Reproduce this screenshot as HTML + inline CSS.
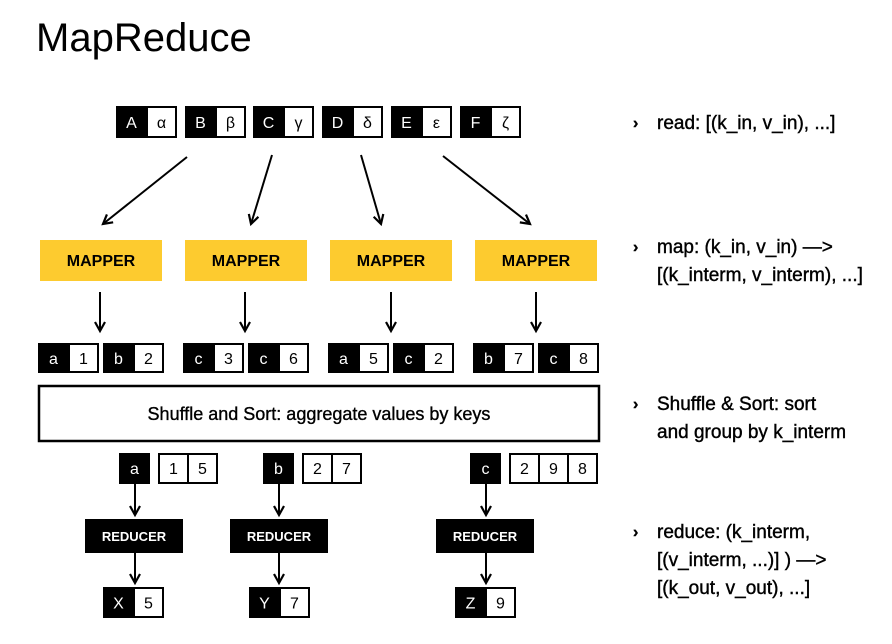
<!DOCTYPE html>
<html><head><meta charset="utf-8"><style>
html,body{margin:0;padding:0;background:#fff;}
svg{display:block;font-family:"Liberation Sans",sans-serif;}
</style></head><body>
<svg width="892" height="644" viewBox="0 0 892 644" xmlns="http://www.w3.org/2000/svg">
<defs><marker id="ah" markerWidth="14" markerHeight="14" refX="10" refY="6" orient="auto" markerUnits="userSpaceOnUse"><path d="M1,1 L10,6 L1,11" fill="none" stroke="#000" stroke-width="2.2"/></marker></defs>
<text x="36" y="51" font-size="40" fill="#000">MapReduce</text>
<g id="top"></g>
<g stroke="#000" stroke-width="2" marker-end="url(#ah)">
<line x1="187" y1="157" x2="103" y2="224"/><line x1="272" y1="155" x2="251" y2="224"/>
<line x1="361" y1="155" x2="381" y2="224"/><line x1="443" y1="156" x2="530" y2="224"/>
<line x1="100" y1="292" x2="100" y2="331"/><line x1="245" y1="292" x2="245" y2="331"/>
<line x1="391" y1="292" x2="391" y2="331"/><line x1="536" y1="292" x2="536" y2="331"/>
<line x1="135" y1="484" x2="135" y2="515"/><line x1="279" y1="484" x2="279" y2="515"/>
<line x1="486" y1="484" x2="486" y2="515"/>
<line x1="135" y1="553" x2="135" y2="583"/><line x1="279" y1="553" x2="279" y2="583"/>
<line x1="486" y1="553" x2="486" y2="583"/>
</g>
<g id="mappers"></g>
<g id="mid"></g>
<rect x="39" y="386" width="560" height="55" fill="#fff" stroke="#000" stroke-width="2.5"/>
<text x="319" y="420" font-size="18" text-anchor="middle" stroke="#000" stroke-width="0.35">Shuffle and Sort: aggregate values by keys</text>
<g id="bottom"></g>
<g font-size="19" fill="#000" stroke="#000" stroke-width="0.4">
<text x="633" y="128" font-size="16" font-weight="bold">›</text><text x="657" y="129">read: [(k_in, v_in), ...]</text>
<text x="633" y="252" font-size="16" font-weight="bold">›</text><text x="657" y="253">map: (k_in, v_in) —&gt;</text><text x="657" y="281">[(k_interm, v_interm), ...]</text>
<text x="633" y="409" font-size="16" font-weight="bold">›</text><text x="657" y="410">Shuffle &amp; Sort: sort</text><text x="657" y="438">and group by k_interm</text>
<text x="633" y="537" font-size="16" font-weight="bold">›</text><text x="657" y="538">reduce: (k_interm,</text><text x="657" y="566">[(v_interm, ...)] ) —&gt;</text><text x="657" y="594">[(k_out, v_out), ...]</text>
</g>
</svg>
<script>
const NS="http://www.w3.org/2000/svg";
const svg=document.querySelector('svg');
function el(tag,attrs,parent){const e=document.createElementNS(NS,tag);for(const k in attrs)e.setAttribute(k,attrs[k]);(parent||svg).appendChild(e);return e;}
function txt(x,y,s,fill,size,parent,weight){const t=el('text',{x:x,y:y,'text-anchor':'middle','font-size':size||16,fill:fill,'font-weight':weight||'normal'},parent);t.textContent=s;return t;}
function pair(x,y,h,k,v,name,parent){
 const g=el('g',{},parent);
 
 
 el('rect',{x:x,y:y,width:31,height:h,fill:'#000'},g);
 el('rect',{x:x+31,y:y+1,width:29,height:h-2,fill:'#fff',stroke:'#000','stroke-width':2},g);
 txt(x+15.5,y+h/2+6,k,'#fff',16,g);
 txt(x+45.5,y+h/2+6,v,'#000',16,g);
}
const inKeys=['A','B','C','D','E','F'];
const inVals=['α','β','γ','δ','ε','ζ'];
const inX=[116,185,253,322,391,460];
inKeys.forEach((k,i)=>pair(inX[i],106,32,k,inVals[i],'input-pair-'+k,document.getElementById('top')));
const mapX=[40,185,330,475];
mapX.forEach((x,i)=>{
 const r=el('rect',{x:x,y:240,width:122,height:41,fill:'#FDCB2F'});
 
 
 txt(x+61,266,'MAPPER','#000',16,svg,'bold');
});
const midK=['a','b','c','c','a','c','b','c'];
const midV=['1','2','3','6','5','2','7','8'];
const midX=[38,103,183,248,328,393,473,538];
midK.forEach((k,i)=>pair(midX[i],343,30,k,midV[i],'intermediate-pair-'+(i+1),document.getElementById('mid')));
const grpK=['a','b','c'];
const grpV=[['1','5'],['2','7'],['2','9','8']];
const grpX=[119,263,470];
const outK=['X','Y','Z'];
const outV=['5','7','9'];
const redX=[85,230,436];
const outX=[103,249,455];
grpK.forEach((k,i)=>{
 const b=el('rect',{x:grpX[i],y:453,width:31,height:31,fill:'#000'});
 
 
 txt(grpX[i]+15.5,474,k,'#fff',16);
 grpV[i].forEach((v,j)=>{
  const c=el('rect',{x:grpX[i]+40+j*29,y:454,width:29,height:29,fill:'#fff',stroke:'#000','stroke-width':2});
  
  
  txt(grpX[i]+54.5+j*29,474,v,'#000',16);
 });
 const r=el('rect',{x:redX[i],y:519,width:98,height:34,fill:'#000'});
 
 
 txt(redX[i]+49,541,'REDUCER','#fff',13,svg,'bold');
 pair(outX[i],587,31,outK[i],outV[i],'output-pair-'+outK[i],document.getElementById('bottom'));
});
</script>
</body></html>
